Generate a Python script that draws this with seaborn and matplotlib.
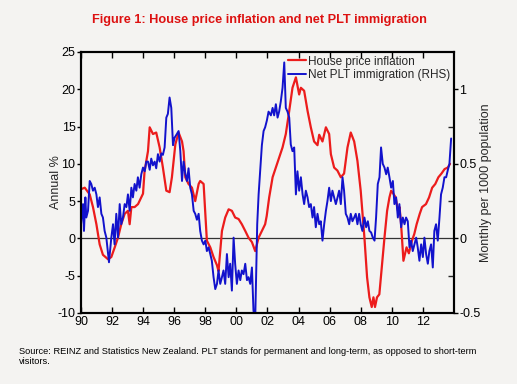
import matplotlib
matplotlib.use("Agg")
import matplotlib.pyplot as plt
import seaborn as sns

# house price inflation, annual % (left axis)
red_years = [1990.0, 1990.24, 1990.56, 1990.77, 1990.99, 1991.2, 1991.41, 1991.74, 1991.95, 1992.17,
             1992.38, 1992.59, 1992.81, 1993.02, 1993.13, 1993.24, 1993.45, 1993.67, 1993.88, 1993.99,
             1994.09, 1994.31, 1994.42, 1994.63, 1994.84, 1995.06, 1995.27, 1995.49, 1995.7, 1995.85,
             1996.07, 1996.28, 1996.5, 1996.6, 1996.71, 1996.92, 1997.14, 1997.35, 1997.57, 1997.67,
             1997.89, 1998.0, 1998.1, 1998.32, 1998.53, 1998.75, 1998.85, 1998.96, 1999.07, 1999.28,
             1999.5, 1999.71, 1999.92, 2000.14, 2000.35, 2000.57, 2000.78, 2001.0, 2001.21, 2001.43,
             2001.64, 2001.85, 2001.95, 2002.11, 2002.33, 2002.54, 2002.75, 2002.97, 2003.18, 2003.4,
             2003.61, 2003.83, 2004.04, 2004.15, 2004.36, 2004.58, 2004.79, 2005.0, 2005.22, 2005.33,
             2005.54, 2005.76, 2005.97, 2006.08, 2006.29, 2006.5, 2006.72, 2006.93, 2007.15, 2007.36,
             2007.58, 2007.79, 2008.0, 2008.24, 2008.41, 2008.56, 2008.71, 2008.82, 2008.92, 2009.05,
             2009.2, 2009.35, 2009.53, 2009.7, 2009.85, 2009.96, 2010.1, 2010.25, 2010.4, 2010.5,
             2010.6, 2010.75, 2010.95, 2011.1, 2011.3, 2011.45, 2011.6, 2011.8, 2011.95, 2012.2,
             2012.4, 2012.6, 2012.8, 2013.0, 2013.2, 2013.4, 2013.6, 2013.75]
red_vals = [6.6, 6.8, 5.9, 4.2, 1.9, -0.8, -2.2, -2.8, -2.5, -1.2,
            0.1, 1.9, 3.3, 3.7, 1.9, 4.2, 4.2, 4.6, 5.5, 6.0,
            9.0, 11.7, 14.9, 14.0, 14.2, 12.2, 9.5, 6.4, 6.2, 8.2,
            12.6, 14.2, 13.0, 11.7, 8.2, 7.3, 6.8, 5.0, 7.3, 7.7,
            7.3, 3.3, -0.3, -1.2, -2.5, -3.6, -4.4, -1.7, 1.0, 2.8,
            3.9, 3.7, 2.8, 2.6, 1.9, 1.0, 0.1, -0.5, -1.7, 0.1,
            1.0, 1.9, 3.0, 5.5, 8.2, 9.5, 10.8, 12.2, 14.0, 17.1,
            20.2, 21.6, 19.3, 20.2, 19.8, 17.1, 14.9, 13.0, 12.5, 13.9,
            13.0, 14.9, 14.0, 11.3, 9.5, 9.1, 8.2, 8.7, 12.2, 14.2,
            13.0, 10.4, 6.4, 0.1, -5.2, -7.9, -9.2, -7.9, -9.2, -7.9,
            -7.5, -4.0, 0.1, 3.7, 5.5, 6.4, 6.0, 5.5, 3.7, 4.2,
            1.9, -3.0, -1.2, -2.0, -0.3, 0.6, 1.9, 3.3, 4.2, 4.6,
            5.5, 6.8, 7.3, 8.2, 8.7, 9.3, 9.5, 10.0]

# net PLT immigration, monthly per 1000 population (right axis)
blue_years = [1990.0, 1990.13, 1990.19, 1990.28, 1990.34, 1990.45, 1990.56, 1990.66, 1990.77, 1990.88,
              1990.99, 1991.09, 1991.2, 1991.31, 1991.41, 1991.52, 1991.63, 1991.74, 1991.8, 1991.89,
              1991.95, 1992.06, 1992.16, 1992.27, 1992.38, 1992.49, 1992.59, 1992.7, 1992.81, 1992.92,
              1993.02, 1993.13, 1993.24, 1993.34, 1993.45, 1993.56, 1993.66, 1993.77, 1993.88, 1993.99,
              1994.1, 1994.2, 1994.31, 1994.42, 1994.52, 1994.63, 1994.74, 1994.84, 1994.95, 1995.06,
              1995.17, 1995.27, 1995.38, 1995.49, 1995.59, 1995.7, 1995.81, 1995.92, 1996.02, 1996.17,
              1996.28, 1996.39, 1996.5, 1996.6, 1996.71, 1996.82, 1996.92, 1997.03, 1997.14, 1997.25,
              1997.35, 1997.46, 1997.57, 1997.67, 1997.78, 1997.89, 1998.0, 1998.1, 1998.21, 1998.32,
              1998.42, 1998.53, 1998.64, 1998.75, 1998.85, 1998.96, 1999.07, 1999.17, 1999.28, 1999.39,
              1999.5, 1999.6, 1999.71, 1999.82, 1999.92, 2000.03, 2000.14, 2000.25, 2000.35, 2000.46,
              2000.57, 2000.68, 2000.78, 2000.89, 2001.0, 2001.1, 2001.21, 2001.28, 2001.34, 2001.43,
              2001.53, 2001.64, 2001.75, 2001.85, 2001.96, 2002.07, 2002.22, 2002.33, 2002.43, 2002.54,
              2002.65, 2002.75, 2002.86, 2002.97, 2003.08, 2003.18, 2003.29, 2003.4, 2003.5, 2003.61,
              2003.72, 2003.83, 2003.93, 2004.04, 2004.15, 2004.26, 2004.36, 2004.47, 2004.58, 2004.68,
              2004.79, 2004.9, 2005.0, 2005.11, 2005.22, 2005.33, 2005.43, 2005.54, 2005.65, 2005.76,
              2005.86, 2005.97, 2006.08, 2006.18, 2006.29, 2006.4, 2006.51, 2006.61, 2006.72, 2006.83,
              2006.93, 2007.04, 2007.15, 2007.26, 2007.36, 2007.47, 2007.58, 2007.68, 2007.79, 2007.9,
              2008.0, 2008.11, 2008.24, 2008.35, 2008.46, 2008.56, 2008.67, 2008.78, 2008.89, 2008.99,
              2009.1, 2009.21, 2009.31, 2009.42, 2009.53, 2009.64, 2009.74, 2009.85, 2009.96, 2010.07,
              2010.17, 2010.28, 2010.39, 2010.49, 2010.6, 2010.71, 2010.82, 2010.92, 2011.03, 2011.14,
              2011.24, 2011.35, 2011.46, 2011.57, 2011.67, 2011.78, 2011.89, 2012.0, 2012.1, 2012.21,
              2012.32, 2012.42, 2012.53, 2012.64, 2012.74, 2012.85, 2012.96, 2013.07, 2013.17, 2013.28,
              2013.39, 2013.5, 2013.6, 2013.71, 2013.82]
blue_vals = [0.095, 0.23, 0.05, 0.275, 0.14, 0.185, 0.385, 0.365, 0.32, 0.34,
             0.295, 0.21, 0.275, 0.165, 0.14, 0.05, 0.005, -0.105, -0.16, -0.06,
             0.005, 0.095, -0.04, 0.165, 0.005, 0.23, 0.095, 0.14, 0.23, 0.21,
             0.295, 0.185, 0.34, 0.275, 0.365, 0.32, 0.41, 0.34, 0.43, 0.475,
             0.45, 0.515, 0.515, 0.46, 0.535, 0.49, 0.515, 0.47, 0.565, 0.515,
             0.57, 0.56, 0.61, 0.81, 0.835, 0.945, 0.875, 0.625, 0.675, 0.70,
             0.72, 0.585, 0.385, 0.515, 0.435, 0.385, 0.47, 0.34, 0.295, 0.185,
             0.165, 0.125, 0.165, 0.05, -0.015, -0.04, -0.015, -0.085, -0.06, -0.105,
             -0.15, -0.26, -0.34, -0.305, -0.215, -0.305, -0.26, -0.215, -0.305, -0.105,
             -0.26, -0.17, -0.35, 0.005, -0.17, -0.305, -0.215, -0.28, -0.215, -0.24,
             -0.17, -0.28, -0.26, -0.305, -0.195, -0.485, -0.55, -0.215, 0.095, 0.295,
             0.45, 0.625, 0.72, 0.745, 0.79, 0.85, 0.825, 0.875, 0.825, 0.90,
             0.81, 0.85, 0.92, 1.01, 1.18, 0.875, 0.85, 0.81, 0.63, 0.585,
             0.61, 0.295, 0.45, 0.32, 0.41, 0.295, 0.23, 0.32, 0.275, 0.21,
             0.23, 0.14, 0.21, 0.075, 0.165, 0.095, 0.115, -0.015, 0.095, 0.185,
             0.25, 0.34, 0.25, 0.32, 0.275, 0.23, 0.275, 0.32, 0.23, 0.41,
             0.32, 0.165, 0.14, 0.095, 0.165, 0.115, 0.14, 0.165, 0.095, 0.165,
             0.095, 0.05, 0.14, 0.075, 0.115, 0.05, 0.04, 0.005, -0.015, 0.14,
             0.365, 0.41, 0.61, 0.50, 0.475, 0.43, 0.475, 0.41, 0.34, 0.385,
             0.23, 0.275, 0.14, 0.23, 0.075, 0.14, 0.095, 0.14, 0.115, -0.06,
             -0.015, -0.085, -0.04, 0.005, -0.06, -0.15, -0.04, -0.125, 0.005, -0.105,
             -0.17, -0.085, -0.04, -0.195, 0.05, 0.095, -0.015, 0.14, 0.295, 0.34,
             0.41, 0.41, 0.455, 0.50, 0.67]

year_ticks = [1990, 1992, 1994, 1996, 1998, 2000, 2002, 2004, 2006, 2008, 2010, 2012]
year_labels = ["90", "92", "94", "96", "98", "00", "02", "04", "06", "08", "10", "12"]
left_ticks = [-10, -5, 0, 5, 10, 15, 20, 25]
right_ticks = [-0.5, 0, 0.5, 1]
right_labels = ["-0.5", "0", "0.5", "1"]

sns.set_theme(style="ticks")
plt.rcParams["font.family"] = ["Liberation Sans", "DejaVu Sans"]
plt.rcParams["axes.unicode_minus"] = False

bg = "#f4f3f1"
red = "#ec1c1c"
blue = "#1212cc"

fig = plt.figure(figsize=(5.17, 3.84), dpi=100, facecolor=bg)
ax = fig.add_axes([0.1567, 0.185, 0.7213, 0.6796])
ax.set_facecolor(bg)
ax2 = ax.twinx()

ax.axhline(0, color="#333333", lw=0.9, zorder=1)
sns.lineplot(x=red_years, y=red_vals, ax=ax, color=red, lw=1.6, sort=False,
             label="House price inflation", legend=False)
sns.lineplot(x=blue_years, y=blue_vals, ax=ax2, color=blue, lw=1.4, sort=False,
             label="Net PLT immigration (RHS)", legend=False)

ax.set_xlim(1990, 2014)
ax.set_ylim(-10, 25)
ax2.set_ylim(-0.5, 1.25)

ax.set_xticks(year_ticks)
ax.set_xticklabels(year_labels)
ax.set_yticks(left_ticks)
ax.set_yticklabels([str(t) for t in left_ticks])
ax2.set_yticks(right_ticks)
ax2.set_yticklabels(right_labels)
ax2.set_yticks([-0.25, 0.25, 0.75], minor=True)

ax.tick_params(axis="x", direction="in", top=True, length=4, width=1, labelsize=9,
               pad=2, colors="black")
ax.tick_params(axis="y", direction="out", length=3, width=1, labelsize=9, pad=1,
               colors="black")
ax2.tick_params(axis="y", which="major", direction="out", length=3, width=1,
                labelsize=9, pad=1, colors="black")
ax2.tick_params(axis="y", which="minor", direction="in", length=4, width=1)

for a in (ax, ax2):
    for s in a.spines.values():
        s.set_color("black")
        s.set_linewidth(1.5)
        s.set_visible(True)

ax.set_xlabel("")
ax.set_ylabel("Annual %", fontsize=9)
ax.yaxis.set_label_coords(-0.051, 0.5)
ax2.set_ylabel("Monthly per 1000 population", fontsize=9)
ax2.yaxis.set_label_coords(1.069, 0.5)

h1, l1 = ax.get_legend_handles_labels()
h2, l2 = ax2.get_legend_handles_labels()
ax2.legend(h1 + h2, l1 + l2, loc="upper right", frameon=False, fontsize=8.5,
           handlelength=1.5, handletextpad=0.2, borderaxespad=0.1, labelspacing=0.1,
           borderpad=0.2)

fig.text(0.501, 1 - 20 / 384, "Figure 1: House price inflation and net PLT immigration",
         ha="center", va="center", fontsize=9.15, fontweight="bold", color="#dd1111")
fig.text(19 / 517, 1 - 347 / 384,
         "Source: REINZ and Statistics New Zealand. PLT stands for permanent and long-term, "
         "as opposed to short-term\nvisitors.",
         ha="left", va="top", fontsize=6.7, color="black", linespacing=1.15)

fig.savefig("out.png", dpi=100, facecolor=bg)
